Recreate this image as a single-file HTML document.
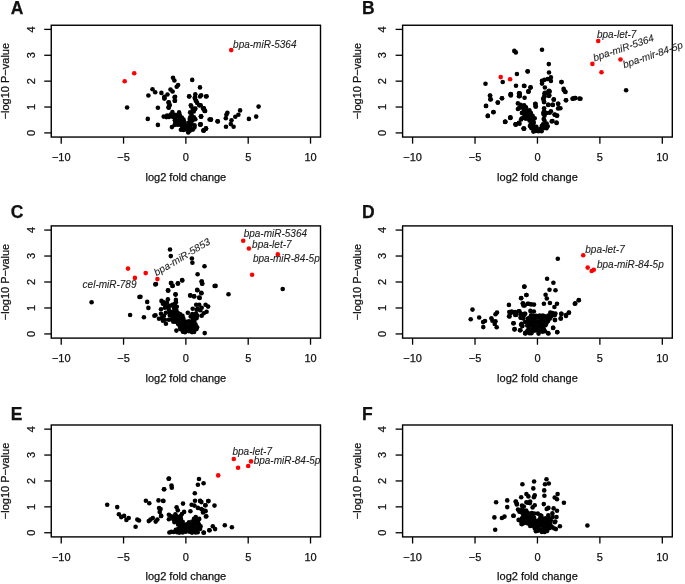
<!DOCTYPE html><html><head><meta charset="utf-8"><style>html,body{margin:0;padding:0;background:#fff;}svg{display:block;will-change:transform;}text{font-family:"Liberation Sans",sans-serif;fill:#111;stroke:#111;stroke-width:0.25px;}text.it{stroke-width:0.1px;fill:#222;stroke:#222;}</style></head><body>
<svg width="685" height="584" viewBox="0 0 685 584">
<rect width="685" height="584" fill="#fff"/>
<g><circle cx="191.3" cy="106.6" r="2.3" fill="#000"/><circle cx="192.9" cy="109.5" r="2.3" fill="#000"/><circle cx="195.0" cy="108.9" r="2.3" fill="#000"/><circle cx="172.4" cy="112.0" r="2.3" fill="#000"/><circle cx="179.1" cy="112.4" r="2.3" fill="#000"/><circle cx="190.1" cy="112.4" r="2.3" fill="#000"/><circle cx="193.8" cy="111.5" r="2.3" fill="#000"/><circle cx="170.7" cy="114.6" r="2.3" fill="#000"/><circle cx="174.7" cy="114.9" r="2.3" fill="#000"/><circle cx="177.6" cy="115.0" r="2.3" fill="#000"/><circle cx="179.8" cy="115.0" r="2.3" fill="#000"/><circle cx="191.6" cy="114.7" r="2.3" fill="#000"/><circle cx="166.4" cy="117.1" r="2.3" fill="#000"/><circle cx="169.0" cy="117.0" r="2.3" fill="#000"/><circle cx="172.6" cy="116.7" r="2.3" fill="#000"/><circle cx="175.1" cy="117.7" r="2.3" fill="#000"/><circle cx="178.7" cy="116.7" r="2.3" fill="#000"/><circle cx="181.8" cy="117.6" r="2.3" fill="#000"/><circle cx="190.2" cy="117.4" r="2.3" fill="#000"/><circle cx="193.9" cy="117.2" r="2.3" fill="#000"/><circle cx="174.8" cy="120.2" r="2.3" fill="#000"/><circle cx="176.9" cy="120.2" r="2.3" fill="#000"/><circle cx="179.9" cy="120.3" r="2.3" fill="#000"/><circle cx="183.5" cy="119.6" r="2.3" fill="#000"/><circle cx="189.7" cy="119.1" r="2.3" fill="#000"/><circle cx="192.6" cy="120.4" r="2.3" fill="#000"/><circle cx="195.3" cy="119.3" r="2.3" fill="#000"/><circle cx="175.4" cy="122.3" r="2.3" fill="#000"/><circle cx="178.4" cy="122.8" r="2.3" fill="#000"/><circle cx="182.2" cy="121.6" r="2.3" fill="#000"/><circle cx="184.3" cy="122.1" r="2.3" fill="#000"/><circle cx="188.4" cy="122.7" r="2.3" fill="#000"/><circle cx="190.5" cy="121.9" r="2.3" fill="#000"/><circle cx="174.6" cy="125.0" r="2.3" fill="#000"/><circle cx="177.7" cy="124.7" r="2.3" fill="#000"/><circle cx="180.0" cy="124.6" r="2.3" fill="#000"/><circle cx="183.7" cy="125.1" r="2.3" fill="#000"/><circle cx="186.8" cy="125.5" r="2.3" fill="#000"/><circle cx="188.7" cy="125.0" r="2.3" fill="#000"/><circle cx="191.6" cy="124.3" r="2.3" fill="#000"/><circle cx="194.6" cy="125.4" r="2.3" fill="#000"/><circle cx="182.1" cy="126.8" r="2.3" fill="#000"/><circle cx="184.9" cy="126.9" r="2.3" fill="#000"/><circle cx="187.2" cy="128.0" r="2.3" fill="#000"/><circle cx="190.0" cy="127.1" r="2.3" fill="#000"/><circle cx="194.4" cy="127.4" r="2.3" fill="#000"/><circle cx="180.9" cy="129.8" r="2.3" fill="#000"/><circle cx="183.3" cy="130.0" r="2.3" fill="#000"/><circle cx="185.9" cy="129.5" r="2.3" fill="#000"/><circle cx="189.8" cy="130.8" r="2.3" fill="#000"/><circle cx="192.8" cy="129.6" r="2.3" fill="#000"/><circle cx="188.2" cy="132.4" r="2.3" fill="#000"/><circle cx="124.7" cy="81.2" r="2.3" fill="#f00"/><circle cx="134.2" cy="73.2" r="2.3" fill="#f00"/><circle cx="231.2" cy="50.1" r="2.3" fill="#f00"/><circle cx="127.1" cy="107.5" r="2.3" fill="#000"/><circle cx="148.4" cy="95.5" r="2.3" fill="#000"/><circle cx="152.5" cy="89.3" r="2.3" fill="#000"/><circle cx="155.2" cy="92.3" r="2.3" fill="#000"/><circle cx="161.4" cy="92.9" r="2.3" fill="#000"/><circle cx="164.4" cy="96.7" r="2.3" fill="#000"/><circle cx="164.4" cy="98.6" r="2.3" fill="#000"/><circle cx="167.5" cy="94.5" r="2.3" fill="#000"/><circle cx="170.5" cy="89.5" r="2.3" fill="#000"/><circle cx="172.6" cy="91.5" r="2.3" fill="#000"/><circle cx="173.0" cy="77.8" r="2.3" fill="#000"/><circle cx="174.4" cy="80.5" r="2.3" fill="#000"/><circle cx="176.7" cy="86.7" r="2.3" fill="#000"/><circle cx="178.1" cy="85.1" r="2.3" fill="#000"/><circle cx="175.1" cy="96.7" r="2.3" fill="#000"/><circle cx="174.7" cy="100.8" r="2.3" fill="#000"/><circle cx="168.5" cy="102.5" r="2.3" fill="#000"/><circle cx="169.6" cy="105.2" r="2.3" fill="#000"/><circle cx="168.5" cy="107.3" r="2.3" fill="#000"/><circle cx="157.9" cy="107.8" r="2.3" fill="#000"/><circle cx="147.8" cy="118.9" r="2.3" fill="#000"/><circle cx="157.9" cy="124.9" r="2.3" fill="#000"/><circle cx="163.7" cy="116.6" r="2.3" fill="#000"/><circle cx="167.1" cy="115.5" r="2.3" fill="#000"/><circle cx="171.9" cy="127.1" r="2.3" fill="#000"/><circle cx="192.2" cy="79.9" r="2.3" fill="#000"/><circle cx="200.0" cy="87.4" r="2.3" fill="#000"/><circle cx="189.2" cy="96.3" r="2.3" fill="#000"/><circle cx="195.3" cy="94.2" r="2.3" fill="#000"/><circle cx="201.1" cy="95.2" r="2.3" fill="#000"/><circle cx="206.6" cy="96.3" r="2.3" fill="#000"/><circle cx="194.9" cy="98.4" r="2.3" fill="#000"/><circle cx="196.3" cy="101.1" r="2.3" fill="#000"/><circle cx="199.5" cy="105.2" r="2.3" fill="#000"/><circle cx="190.8" cy="105.2" r="2.3" fill="#000"/><circle cx="195.3" cy="108.6" r="2.3" fill="#000"/><circle cx="203.8" cy="108.6" r="2.3" fill="#000"/><circle cx="204.9" cy="111.0" r="2.3" fill="#000"/><circle cx="201.1" cy="116.4" r="2.3" fill="#000"/><circle cx="200.4" cy="124.4" r="2.3" fill="#000"/><circle cx="210.7" cy="119.6" r="2.3" fill="#000"/><circle cx="217.5" cy="121.2" r="2.3" fill="#000"/><circle cx="203.6" cy="130.5" r="2.3" fill="#000"/><circle cx="205.9" cy="128.5" r="2.3" fill="#000"/><circle cx="200.7" cy="105.2" r="2.3" fill="#000"/><circle cx="203.8" cy="108.2" r="2.3" fill="#000"/><circle cx="205.1" cy="111.0" r="2.3" fill="#000"/><circle cx="201.1" cy="116.6" r="2.3" fill="#000"/><circle cx="200.7" cy="124.4" r="2.3" fill="#000"/><circle cx="205.9" cy="128.5" r="2.3" fill="#000"/><circle cx="203.4" cy="130.5" r="2.3" fill="#000"/><circle cx="211.0" cy="119.6" r="2.3" fill="#000"/><circle cx="217.8" cy="121.4" r="2.3" fill="#000"/><circle cx="227.4" cy="112.7" r="2.3" fill="#000"/><circle cx="226.4" cy="114.8" r="2.3" fill="#000"/><circle cx="225.8" cy="118.2" r="2.3" fill="#000"/><circle cx="231.5" cy="120.3" r="2.3" fill="#000"/><circle cx="230.8" cy="124.1" r="2.3" fill="#000"/><circle cx="233.6" cy="126.8" r="2.3" fill="#000"/><circle cx="226.0" cy="126.8" r="2.3" fill="#000"/><circle cx="235.3" cy="116.8" r="2.3" fill="#000"/><circle cx="238.4" cy="114.8" r="2.3" fill="#000"/><circle cx="240.1" cy="110.4" r="2.3" fill="#000"/><circle cx="248.9" cy="118.9" r="2.3" fill="#000"/><circle cx="256.2" cy="116.6" r="2.3" fill="#000"/><circle cx="258.6" cy="106.6" r="2.3" fill="#000"/><circle cx="168.8" cy="102.3" r="2.3" fill="#000"/><circle cx="169.5" cy="104.9" r="2.3" fill="#000"/><circle cx="168.8" cy="107.8" r="2.3" fill="#000"/><circle cx="174.6" cy="97.2" r="2.3" fill="#000"/><circle cx="175.0" cy="100.8" r="2.3" fill="#000"/><circle cx="164.4" cy="97.9" r="2.3" fill="#000"/><circle cx="189.2" cy="96.5" r="2.3" fill="#000"/><circle cx="195.0" cy="97.2" r="2.3" fill="#000"/><circle cx="195.8" cy="100.8" r="2.3" fill="#000"/><circle cx="197.2" cy="103.0" r="2.3" fill="#000"/><circle cx="199.4" cy="105.2" r="2.3" fill="#000"/><circle cx="203.0" cy="108.5" r="2.3" fill="#000"/><circle cx="204.5" cy="110.7" r="2.3" fill="#000"/><circle cx="200.1" cy="96.5" r="2.3" fill="#000"/><circle cx="206.0" cy="96.5" r="2.3" fill="#000"/><circle cx="203.8" cy="130.4" r="2.3" fill="#000"/><circle cx="206.0" cy="128.6" r="2.3" fill="#000"/><circle cx="200.1" cy="124.6" r="2.3" fill="#000"/><circle cx="200.9" cy="116.5" r="2.3" fill="#000"/><circle cx="209.6" cy="119.5" r="2.3" fill="#000"/><rect x="51.25" y="25.25" width="269.25" height="111.80" fill="none" stroke="#000" stroke-width="1.4"/><line x1="61.22" y1="137.05" x2="61.22" y2="143.65" stroke="#000" stroke-width="1.3"/><text x="61.22" y="160.95" font-size="11" text-anchor="middle">−10</text><line x1="123.55" y1="137.05" x2="123.55" y2="143.65" stroke="#000" stroke-width="1.3"/><text x="123.55" y="160.95" font-size="11" text-anchor="middle">−5</text><line x1="185.88" y1="137.05" x2="185.88" y2="143.65" stroke="#000" stroke-width="1.3"/><text x="185.88" y="160.95" font-size="11" text-anchor="middle">0</text><line x1="248.20" y1="137.05" x2="248.20" y2="143.65" stroke="#000" stroke-width="1.3"/><text x="248.20" y="160.95" font-size="11" text-anchor="middle">5</text><line x1="310.53" y1="137.05" x2="310.53" y2="143.65" stroke="#000" stroke-width="1.3"/><text x="310.53" y="160.95" font-size="11" text-anchor="middle">10</text><line x1="44.25" y1="132.91" x2="51.25" y2="132.91" stroke="#000" stroke-width="1.3"/><text transform="translate(35.10,132.91) rotate(-90)" font-size="11" text-anchor="middle">0</text><line x1="44.25" y1="107.03" x2="51.25" y2="107.03" stroke="#000" stroke-width="1.3"/><text transform="translate(35.10,107.03) rotate(-90)" font-size="11" text-anchor="middle">1</text><line x1="44.25" y1="81.15" x2="51.25" y2="81.15" stroke="#000" stroke-width="1.3"/><text transform="translate(35.10,81.15) rotate(-90)" font-size="11" text-anchor="middle">2</text><line x1="44.25" y1="55.27" x2="51.25" y2="55.27" stroke="#000" stroke-width="1.3"/><text transform="translate(35.10,55.27) rotate(-90)" font-size="11" text-anchor="middle">3</text><line x1="44.25" y1="29.39" x2="51.25" y2="29.39" stroke="#000" stroke-width="1.3"/><text transform="translate(35.10,29.39) rotate(-90)" font-size="11" text-anchor="middle">4</text><text x="185.88" y="180.55" font-size="11" text-anchor="middle">log2 fold change</text><text transform="translate(9.30,81.15) rotate(-90)" font-size="11" text-anchor="middle">−log10 P−value</text><text x="10.75" y="13.80" font-size="17.5" font-weight="bold">A</text><text x="233.1" y="47.7" class="it" font-size="10" font-style="italic">bpa-miR-5364</text></g>
<g><circle cx="520.5" cy="104.8" r="2.3" fill="#000"/><circle cx="524.1" cy="105.2" r="2.3" fill="#000"/><circle cx="519.1" cy="108.1" r="2.3" fill="#000"/><circle cx="522.6" cy="107.8" r="2.3" fill="#000"/><circle cx="525.9" cy="107.3" r="2.3" fill="#000"/><circle cx="524.1" cy="110.6" r="2.3" fill="#000"/><circle cx="526.6" cy="110.4" r="2.3" fill="#000"/><circle cx="529.4" cy="110.2" r="2.3" fill="#000"/><circle cx="544.2" cy="111.3" r="2.3" fill="#000"/><circle cx="525.8" cy="113.6" r="2.3" fill="#000"/><circle cx="528.9" cy="113.9" r="2.3" fill="#000"/><circle cx="530.9" cy="113.0" r="2.3" fill="#000"/><circle cx="543.4" cy="113.9" r="2.3" fill="#000"/><circle cx="546.7" cy="113.0" r="2.3" fill="#000"/><circle cx="549.8" cy="112.8" r="2.3" fill="#000"/><circle cx="524.3" cy="116.1" r="2.3" fill="#000"/><circle cx="527.4" cy="116.2" r="2.3" fill="#000"/><circle cx="530.2" cy="116.0" r="2.3" fill="#000"/><circle cx="532.6" cy="115.7" r="2.3" fill="#000"/><circle cx="544.5" cy="115.7" r="2.3" fill="#000"/><circle cx="522.1" cy="118.2" r="2.3" fill="#000"/><circle cx="525.9" cy="118.8" r="2.3" fill="#000"/><circle cx="528.6" cy="118.1" r="2.3" fill="#000"/><circle cx="531.7" cy="118.6" r="2.3" fill="#000"/><circle cx="534.7" cy="118.2" r="2.3" fill="#000"/><circle cx="543.7" cy="119.1" r="2.3" fill="#000"/><circle cx="529.5" cy="120.4" r="2.3" fill="#000"/><circle cx="533.4" cy="121.5" r="2.3" fill="#000"/><circle cx="544.5" cy="120.7" r="2.3" fill="#000"/><circle cx="530.8" cy="124.0" r="2.3" fill="#000"/><circle cx="533.7" cy="123.0" r="2.3" fill="#000"/><circle cx="543.0" cy="124.2" r="2.3" fill="#000"/><circle cx="546.6" cy="123.6" r="2.3" fill="#000"/><circle cx="529.9" cy="126.1" r="2.3" fill="#000"/><circle cx="533.4" cy="126.3" r="2.3" fill="#000"/><circle cx="536.3" cy="126.8" r="2.3" fill="#000"/><circle cx="541.8" cy="126.0" r="2.3" fill="#000"/><circle cx="545.3" cy="126.3" r="2.3" fill="#000"/><circle cx="531.5" cy="128.3" r="2.3" fill="#000"/><circle cx="534.1" cy="128.2" r="2.3" fill="#000"/><circle cx="537.1" cy="129.4" r="2.3" fill="#000"/><circle cx="540.1" cy="129.1" r="2.3" fill="#000"/><circle cx="543.4" cy="128.3" r="2.3" fill="#000"/><circle cx="546.5" cy="128.2" r="2.3" fill="#000"/><circle cx="533.4" cy="131.6" r="2.3" fill="#000"/><circle cx="535.7" cy="131.0" r="2.3" fill="#000"/><circle cx="538.4" cy="131.2" r="2.3" fill="#000"/><circle cx="541.6" cy="131.2" r="2.3" fill="#000"/><circle cx="544.5" cy="93.2" r="2.3" fill="#000"/><circle cx="547.7" cy="92.4" r="2.3" fill="#000"/><circle cx="549.7" cy="91.6" r="2.3" fill="#000"/><circle cx="548.9" cy="96.0" r="2.3" fill="#000"/><circle cx="544.5" cy="96.4" r="2.3" fill="#000"/><circle cx="543.2" cy="98.5" r="2.3" fill="#000"/><circle cx="544.0" cy="102.1" r="2.3" fill="#000"/><circle cx="510.6" cy="94.4" r="2.3" fill="#000"/><circle cx="519.5" cy="93.6" r="2.3" fill="#000"/><circle cx="519.5" cy="96.0" r="2.3" fill="#000"/><circle cx="528.3" cy="91.6" r="2.3" fill="#000"/><circle cx="535.2" cy="104.1" r="2.3" fill="#000"/><circle cx="535.6" cy="106.5" r="2.3" fill="#000"/><circle cx="553.7" cy="99.7" r="2.3" fill="#000"/><circle cx="548.1" cy="104.9" r="2.3" fill="#000"/><circle cx="552.9" cy="104.9" r="2.3" fill="#000"/><circle cx="558.1" cy="103.7" r="2.3" fill="#000"/><circle cx="558.1" cy="108.5" r="2.3" fill="#000"/><circle cx="510.2" cy="117.8" r="2.3" fill="#000"/><circle cx="505.4" cy="121.8" r="2.3" fill="#000"/><circle cx="515.5" cy="124.2" r="2.3" fill="#000"/><circle cx="519.5" cy="123.8" r="2.3" fill="#000"/><circle cx="523.5" cy="128.6" r="2.3" fill="#000"/><circle cx="551.7" cy="121.4" r="2.3" fill="#000"/><circle cx="556.5" cy="122.6" r="2.3" fill="#000"/><circle cx="554.5" cy="114.6" r="2.3" fill="#000"/><circle cx="556.9" cy="115.8" r="2.3" fill="#000"/><circle cx="521.9" cy="112.9" r="2.3" fill="#000"/><circle cx="521.1" cy="119.4" r="2.3" fill="#000"/><circle cx="500.7" cy="77.1" r="2.3" fill="#f00"/><circle cx="510.1" cy="79.2" r="2.3" fill="#f00"/><circle cx="592.4" cy="63.9" r="2.3" fill="#f00"/><circle cx="601.5" cy="72.2" r="2.3" fill="#f00"/><circle cx="620.5" cy="59.5" r="2.3" fill="#f00"/><circle cx="598.2" cy="41.0" r="2.3" fill="#f00"/><circle cx="514.3" cy="50.9" r="2.3" fill="#000"/><circle cx="515.8" cy="52.4" r="2.3" fill="#000"/><circle cx="527.7" cy="71.5" r="2.3" fill="#000"/><circle cx="516.9" cy="74.0" r="2.3" fill="#000"/><circle cx="502.7" cy="82.0" r="2.3" fill="#000"/><circle cx="485.5" cy="83.8" r="2.3" fill="#000"/><circle cx="516.0" cy="85.8" r="2.3" fill="#000"/><circle cx="524.0" cy="85.8" r="2.3" fill="#000"/><circle cx="530.5" cy="87.4" r="2.3" fill="#000"/><circle cx="528.5" cy="91.2" r="2.3" fill="#000"/><circle cx="490.1" cy="95.5" r="2.3" fill="#000"/><circle cx="490.7" cy="99.2" r="2.3" fill="#000"/><circle cx="510.8" cy="94.0" r="2.3" fill="#000"/><circle cx="510.8" cy="95.5" r="2.3" fill="#000"/><circle cx="519.7" cy="93.5" r="2.3" fill="#000"/><circle cx="519.7" cy="95.9" r="2.3" fill="#000"/><circle cx="502.0" cy="98.2" r="2.3" fill="#000"/><circle cx="497.8" cy="102.5" r="2.3" fill="#000"/><circle cx="486.1" cy="105.9" r="2.3" fill="#000"/><circle cx="493.5" cy="112.0" r="2.3" fill="#000"/><circle cx="487.8" cy="115.9" r="2.3" fill="#000"/><circle cx="510.4" cy="117.4" r="2.3" fill="#000"/><circle cx="505.1" cy="121.7" r="2.3" fill="#000"/><circle cx="515.8" cy="124.4" r="2.3" fill="#000"/><circle cx="518.9" cy="122.8" r="2.3" fill="#000"/><circle cx="524.0" cy="128.5" r="2.3" fill="#000"/><circle cx="542.0" cy="49.8" r="2.3" fill="#000"/><circle cx="548.8" cy="64.1" r="2.3" fill="#000"/><circle cx="527.6" cy="71.2" r="2.3" fill="#000"/><circle cx="549.0" cy="72.5" r="2.3" fill="#000"/><circle cx="550.9" cy="77.4" r="2.3" fill="#000"/><circle cx="547.7" cy="79.0" r="2.3" fill="#000"/><circle cx="544.4" cy="79.9" r="2.3" fill="#000"/><circle cx="542.0" cy="80.7" r="2.3" fill="#000"/><circle cx="542.0" cy="83.6" r="2.3" fill="#000"/><circle cx="550.9" cy="81.0" r="2.3" fill="#000"/><circle cx="561.5" cy="82.0" r="2.3" fill="#000"/><circle cx="524.4" cy="86.0" r="2.3" fill="#000"/><circle cx="530.6" cy="87.5" r="2.3" fill="#000"/><circle cx="528.5" cy="91.7" r="2.3" fill="#000"/><circle cx="544.9" cy="87.5" r="2.3" fill="#000"/><circle cx="549.0" cy="90.8" r="2.3" fill="#000"/><circle cx="545.2" cy="92.9" r="2.3" fill="#000"/><circle cx="549.3" cy="95.3" r="2.3" fill="#000"/><circle cx="544.4" cy="96.1" r="2.3" fill="#000"/><circle cx="543.6" cy="99.4" r="2.3" fill="#000"/><circle cx="544.1" cy="101.8" r="2.3" fill="#000"/><circle cx="563.6" cy="88.8" r="2.3" fill="#000"/><circle cx="565.2" cy="91.7" r="2.3" fill="#000"/><circle cx="553.8" cy="99.4" r="2.3" fill="#000"/><circle cx="566.0" cy="100.2" r="2.3" fill="#000"/><circle cx="572.9" cy="98.6" r="2.3" fill="#000"/><circle cx="575.3" cy="98.1" r="2.3" fill="#000"/><circle cx="579.4" cy="98.6" r="2.3" fill="#000"/><circle cx="548.5" cy="104.7" r="2.3" fill="#000"/><circle cx="552.5" cy="104.7" r="2.3" fill="#000"/><circle cx="558.2" cy="103.8" r="2.3" fill="#000"/><circle cx="559.0" cy="108.0" r="2.3" fill="#000"/><circle cx="535.5" cy="103.8" r="2.3" fill="#000"/><circle cx="535.8" cy="106.4" r="2.3" fill="#000"/><circle cx="544.1" cy="108.3" r="2.3" fill="#000"/><circle cx="543.6" cy="112.4" r="2.3" fill="#000"/><circle cx="550.9" cy="111.3" r="2.3" fill="#000"/><circle cx="555.0" cy="114.8" r="2.3" fill="#000"/><circle cx="557.1" cy="115.6" r="2.3" fill="#000"/><circle cx="552.5" cy="121.0" r="2.3" fill="#000"/><circle cx="556.6" cy="123.0" r="2.3" fill="#000"/><circle cx="524.1" cy="128.7" r="2.3" fill="#000"/><circle cx="547.7" cy="126.2" r="2.3" fill="#000"/><circle cx="524.6" cy="97.8" r="2.3" fill="#000"/><circle cx="561.5" cy="82.1" r="2.3" fill="#000"/><circle cx="563.9" cy="90.2" r="2.3" fill="#000"/><circle cx="565.4" cy="91.9" r="2.3" fill="#000"/><circle cx="566.0" cy="100.2" r="2.3" fill="#000"/><circle cx="572.6" cy="98.8" r="2.3" fill="#000"/><circle cx="574.8" cy="98.1" r="2.3" fill="#000"/><circle cx="580.5" cy="98.8" r="2.3" fill="#000"/><circle cx="626.1" cy="90.2" r="2.3" fill="#000"/><circle cx="560.4" cy="108.2" r="2.3" fill="#000"/><circle cx="490.0" cy="95.8" r="2.3" fill="#000"/><circle cx="490.4" cy="99.5" r="2.3" fill="#000"/><circle cx="502.0" cy="98.2" r="2.3" fill="#000"/><circle cx="510.9" cy="94.5" r="2.3" fill="#000"/><circle cx="497.8" cy="102.6" r="2.3" fill="#000"/><circle cx="485.9" cy="106.0" r="2.3" fill="#000"/><circle cx="493.4" cy="112.3" r="2.3" fill="#000"/><circle cx="487.8" cy="115.9" r="2.3" fill="#000"/><circle cx="510.4" cy="117.9" r="2.3" fill="#000"/><circle cx="505.1" cy="121.9" r="2.3" fill="#000"/><circle cx="515.7" cy="124.6" r="2.3" fill="#000"/><circle cx="519.0" cy="93.4" r="2.3" fill="#000"/><circle cx="519.0" cy="96.2" r="2.3" fill="#000"/><circle cx="517.9" cy="103.4" r="2.3" fill="#000"/><circle cx="517.9" cy="109.0" r="2.3" fill="#000"/><rect x="402.60" y="25.25" width="269.70" height="111.80" fill="none" stroke="#000" stroke-width="1.4"/><line x1="412.59" y1="137.05" x2="412.59" y2="143.65" stroke="#000" stroke-width="1.3"/><text x="412.59" y="160.95" font-size="11" text-anchor="middle">−10</text><line x1="475.02" y1="137.05" x2="475.02" y2="143.65" stroke="#000" stroke-width="1.3"/><text x="475.02" y="160.95" font-size="11" text-anchor="middle">−5</text><line x1="537.45" y1="137.05" x2="537.45" y2="143.65" stroke="#000" stroke-width="1.3"/><text x="537.45" y="160.95" font-size="11" text-anchor="middle">0</text><line x1="599.88" y1="137.05" x2="599.88" y2="143.65" stroke="#000" stroke-width="1.3"/><text x="599.88" y="160.95" font-size="11" text-anchor="middle">5</text><line x1="662.31" y1="137.05" x2="662.31" y2="143.65" stroke="#000" stroke-width="1.3"/><text x="662.31" y="160.95" font-size="11" text-anchor="middle">10</text><line x1="395.60" y1="132.91" x2="402.60" y2="132.91" stroke="#000" stroke-width="1.3"/><text transform="translate(386.45,132.91) rotate(-90)" font-size="11" text-anchor="middle">0</text><line x1="395.60" y1="107.03" x2="402.60" y2="107.03" stroke="#000" stroke-width="1.3"/><text transform="translate(386.45,107.03) rotate(-90)" font-size="11" text-anchor="middle">1</text><line x1="395.60" y1="81.15" x2="402.60" y2="81.15" stroke="#000" stroke-width="1.3"/><text transform="translate(386.45,81.15) rotate(-90)" font-size="11" text-anchor="middle">2</text><line x1="395.60" y1="55.27" x2="402.60" y2="55.27" stroke="#000" stroke-width="1.3"/><text transform="translate(386.45,55.27) rotate(-90)" font-size="11" text-anchor="middle">3</text><line x1="395.60" y1="29.39" x2="402.60" y2="29.39" stroke="#000" stroke-width="1.3"/><text transform="translate(386.45,29.39) rotate(-90)" font-size="11" text-anchor="middle">4</text><text x="537.45" y="180.55" font-size="11" text-anchor="middle">log2 fold change</text><text transform="translate(360.65,81.15) rotate(-90)" font-size="11" text-anchor="middle">−log10 P−value</text><text x="362.10" y="13.80" font-size="17.5" font-weight="bold">B</text><text x="596.9" y="37.6" class="it" font-size="10" font-style="italic">bpa-let-7</text><text transform="translate(594.5,61.4) rotate(-19.0)" class="it" font-size="10" font-style="italic">bpa-miR-5364</text><text transform="translate(624.2,68.2) rotate(-19.0)" class="it" font-size="10" font-style="italic">bpa-mir-84-5p</text></g>
<g><circle cx="175.0" cy="308.2" r="2.3" fill="#000"/><circle cx="173.4" cy="311.5" r="2.3" fill="#000"/><circle cx="176.5" cy="310.9" r="2.3" fill="#000"/><circle cx="171.9" cy="313.4" r="2.3" fill="#000"/><circle cx="175.4" cy="314.2" r="2.3" fill="#000"/><circle cx="178.3" cy="313.3" r="2.3" fill="#000"/><circle cx="180.3" cy="314.2" r="2.3" fill="#000"/><circle cx="192.3" cy="314.1" r="2.3" fill="#000"/><circle cx="196.0" cy="313.6" r="2.3" fill="#000"/><circle cx="169.8" cy="315.5" r="2.3" fill="#000"/><circle cx="173.2" cy="316.4" r="2.3" fill="#000"/><circle cx="176.2" cy="316.0" r="2.3" fill="#000"/><circle cx="179.6" cy="316.5" r="2.3" fill="#000"/><circle cx="182.5" cy="315.9" r="2.3" fill="#000"/><circle cx="190.7" cy="316.4" r="2.3" fill="#000"/><circle cx="194.2" cy="316.1" r="2.3" fill="#000"/><circle cx="197.4" cy="315.7" r="2.3" fill="#000"/><circle cx="171.7" cy="319.4" r="2.3" fill="#000"/><circle cx="175.2" cy="318.6" r="2.3" fill="#000"/><circle cx="177.7" cy="319.0" r="2.3" fill="#000"/><circle cx="181.2" cy="318.6" r="2.3" fill="#000"/><circle cx="183.3" cy="318.4" r="2.3" fill="#000"/><circle cx="193.0" cy="318.6" r="2.3" fill="#000"/><circle cx="196.5" cy="318.3" r="2.3" fill="#000"/><circle cx="173.3" cy="321.8" r="2.3" fill="#000"/><circle cx="175.7" cy="321.8" r="2.3" fill="#000"/><circle cx="178.9" cy="321.6" r="2.3" fill="#000"/><circle cx="182.9" cy="321.6" r="2.3" fill="#000"/><circle cx="185.5" cy="321.5" r="2.3" fill="#000"/><circle cx="188.8" cy="321.2" r="2.3" fill="#000"/><circle cx="191.0" cy="321.5" r="2.3" fill="#000"/><circle cx="194.4" cy="320.9" r="2.3" fill="#000"/><circle cx="178.1" cy="323.9" r="2.3" fill="#000"/><circle cx="180.6" cy="323.5" r="2.3" fill="#000"/><circle cx="183.6" cy="324.7" r="2.3" fill="#000"/><circle cx="186.3" cy="324.6" r="2.3" fill="#000"/><circle cx="190.2" cy="324.4" r="2.3" fill="#000"/><circle cx="192.4" cy="324.2" r="2.3" fill="#000"/><circle cx="195.5" cy="324.3" r="2.3" fill="#000"/><circle cx="179.9" cy="326.4" r="2.3" fill="#000"/><circle cx="182.5" cy="326.6" r="2.3" fill="#000"/><circle cx="185.4" cy="326.6" r="2.3" fill="#000"/><circle cx="188.4" cy="326.7" r="2.3" fill="#000"/><circle cx="191.3" cy="326.5" r="2.3" fill="#000"/><circle cx="195.0" cy="327.3" r="2.3" fill="#000"/><circle cx="197.1" cy="327.2" r="2.3" fill="#000"/><circle cx="180.3" cy="329.1" r="2.3" fill="#000"/><circle cx="183.9" cy="329.6" r="2.3" fill="#000"/><circle cx="186.8" cy="329.6" r="2.3" fill="#000"/><circle cx="189.8" cy="329.4" r="2.3" fill="#000"/><circle cx="193.3" cy="328.7" r="2.3" fill="#000"/><circle cx="196.5" cy="329.1" r="2.3" fill="#000"/><circle cx="182.9" cy="331.7" r="2.3" fill="#000"/><circle cx="185.0" cy="332.3" r="2.3" fill="#000"/><circle cx="189.0" cy="331.3" r="2.3" fill="#000"/><circle cx="192.0" cy="332.1" r="2.3" fill="#000"/><circle cx="194.1" cy="331.9" r="2.3" fill="#000"/><circle cx="156.0" cy="284.0" r="2.3" fill="#000"/><circle cx="170.9" cy="283.0" r="2.3" fill="#000"/><circle cx="172.4" cy="286.0" r="2.3" fill="#000"/><circle cx="177.8" cy="283.5" r="2.3" fill="#000"/><circle cx="182.3" cy="280.5" r="2.3" fill="#000"/><circle cx="201.7" cy="281.5" r="2.3" fill="#000"/><circle cx="202.2" cy="283.5" r="2.3" fill="#000"/><circle cx="214.6" cy="286.0" r="2.3" fill="#000"/><circle cx="167.9" cy="290.4" r="2.3" fill="#000"/><circle cx="175.6" cy="294.6" r="2.3" fill="#000"/><circle cx="197.2" cy="289.9" r="2.3" fill="#000"/><circle cx="201.2" cy="292.9" r="2.3" fill="#000"/><circle cx="190.3" cy="295.4" r="2.3" fill="#000"/><circle cx="194.2" cy="296.4" r="2.3" fill="#000"/><circle cx="199.7" cy="297.9" r="2.3" fill="#000"/><circle cx="167.9" cy="299.4" r="2.3" fill="#000"/><circle cx="161.5" cy="300.9" r="2.3" fill="#000"/><circle cx="163.9" cy="302.3" r="2.3" fill="#000"/><circle cx="175.9" cy="299.9" r="2.3" fill="#000"/><circle cx="175.9" cy="302.3" r="2.3" fill="#000"/><circle cx="165.4" cy="304.8" r="2.3" fill="#000"/><circle cx="168.4" cy="306.8" r="2.3" fill="#000"/><circle cx="196.2" cy="304.8" r="2.3" fill="#000"/><circle cx="199.2" cy="304.8" r="2.3" fill="#000"/><circle cx="205.6" cy="304.8" r="2.3" fill="#000"/><circle cx="208.1" cy="306.6" r="2.3" fill="#000"/><circle cx="206.6" cy="311.8" r="2.3" fill="#000"/><circle cx="203.7" cy="313.3" r="2.3" fill="#000"/><circle cx="200.2" cy="310.3" r="2.3" fill="#000"/><circle cx="161.0" cy="309.3" r="2.3" fill="#000"/><circle cx="161.0" cy="313.8" r="2.3" fill="#000"/><circle cx="155.5" cy="315.3" r="2.3" fill="#000"/><circle cx="159.0" cy="318.7" r="2.3" fill="#000"/><circle cx="162.9" cy="320.7" r="2.3" fill="#000"/><circle cx="165.9" cy="323.7" r="2.3" fill="#000"/><circle cx="176.4" cy="330.6" r="2.3" fill="#000"/><circle cx="204.7" cy="333.1" r="2.3" fill="#000"/><circle cx="187.8" cy="312.8" r="2.3" fill="#000"/><circle cx="201.7" cy="315.7" r="2.3" fill="#000"/><circle cx="128.0" cy="268.6" r="2.3" fill="#f00"/><circle cx="145.7" cy="273.1" r="2.3" fill="#f00"/><circle cx="134.9" cy="277.9" r="2.3" fill="#f00"/><circle cx="157.4" cy="279.1" r="2.3" fill="#f00"/><circle cx="243.2" cy="240.8" r="2.3" fill="#f00"/><circle cx="248.9" cy="248.5" r="2.3" fill="#f00"/><circle cx="277.8" cy="254.4" r="2.3" fill="#f00"/><circle cx="252.1" cy="274.7" r="2.3" fill="#f00"/><circle cx="155.3" cy="284.4" r="2.3" fill="#000"/><circle cx="91.6" cy="302.3" r="2.3" fill="#000"/><circle cx="139.4" cy="297.0" r="2.3" fill="#000"/><circle cx="147.2" cy="301.9" r="2.3" fill="#000"/><circle cx="148.4" cy="307.9" r="2.3" fill="#000"/><circle cx="130.1" cy="315.0" r="2.3" fill="#000"/><circle cx="143.9" cy="317.2" r="2.3" fill="#000"/><circle cx="154.4" cy="315.7" r="2.3" fill="#000"/><circle cx="170.0" cy="249.5" r="2.3" fill="#000"/><circle cx="170.8" cy="256.1" r="2.3" fill="#000"/><circle cx="191.9" cy="258.5" r="2.3" fill="#000"/><circle cx="192.4" cy="262.8" r="2.3" fill="#000"/><circle cx="204.5" cy="266.2" r="2.3" fill="#000"/><circle cx="197.6" cy="274.2" r="2.3" fill="#000"/><circle cx="182.1" cy="280.1" r="2.3" fill="#000"/><circle cx="178.0" cy="283.4" r="2.3" fill="#000"/><circle cx="171.3" cy="283.0" r="2.3" fill="#000"/><circle cx="172.7" cy="285.7" r="2.3" fill="#000"/><circle cx="168.3" cy="290.6" r="2.3" fill="#000"/><circle cx="175.5" cy="294.3" r="2.3" fill="#000"/><circle cx="201.7" cy="281.6" r="2.3" fill="#000"/><circle cx="202.2" cy="283.7" r="2.3" fill="#000"/><circle cx="197.4" cy="290.2" r="2.3" fill="#000"/><circle cx="201.5" cy="293.2" r="2.3" fill="#000"/><circle cx="190.2" cy="295.5" r="2.3" fill="#000"/><circle cx="194.0" cy="296.3" r="2.3" fill="#000"/><circle cx="199.1" cy="297.6" r="2.3" fill="#000"/><circle cx="140.5" cy="296.7" r="2.3" fill="#000"/><circle cx="215.6" cy="285.9" r="2.3" fill="#000"/><circle cx="228.5" cy="294.3" r="2.3" fill="#000"/><circle cx="282.7" cy="289.0" r="2.3" fill="#000"/><circle cx="162.9" cy="303.8" r="2.3" fill="#000"/><circle cx="166.9" cy="302.8" r="2.3" fill="#000"/><circle cx="169.9" cy="305.8" r="2.3" fill="#000"/><circle cx="172.4" cy="304.8" r="2.3" fill="#000"/><circle cx="173.9" cy="307.8" r="2.3" fill="#000"/><circle cx="164.9" cy="307.8" r="2.3" fill="#000"/><circle cx="168.9" cy="309.8" r="2.3" fill="#000"/><circle cx="165.9" cy="312.8" r="2.3" fill="#000"/><circle cx="163.9" cy="315.7" r="2.3" fill="#000"/><circle cx="169.9" cy="312.8" r="2.3" fill="#000"/><circle cx="172.9" cy="311.8" r="2.3" fill="#000"/><circle cx="201.7" cy="307.8" r="2.3" fill="#000"/><circle cx="197.7" cy="308.8" r="2.3" fill="#000"/><circle cx="192.7" cy="308.8" r="2.3" fill="#000"/><circle cx="196.7" cy="309.8" r="2.3" fill="#000"/><circle cx="174.9" cy="303.8" r="2.3" fill="#000"/><circle cx="176.8" cy="306.8" r="2.3" fill="#000"/><circle cx="162.0" cy="317.7" r="2.3" fill="#000"/><circle cx="164.9" cy="319.7" r="2.3" fill="#000"/><circle cx="168.9" cy="319.7" r="2.3" fill="#000"/><rect x="51.25" y="225.90" width="269.25" height="112.20" fill="none" stroke="#000" stroke-width="1.4"/><line x1="61.22" y1="338.10" x2="61.22" y2="344.70" stroke="#000" stroke-width="1.3"/><text x="61.22" y="362.00" font-size="11" text-anchor="middle">−10</text><line x1="123.55" y1="338.10" x2="123.55" y2="344.70" stroke="#000" stroke-width="1.3"/><text x="123.55" y="362.00" font-size="11" text-anchor="middle">−5</text><line x1="185.88" y1="338.10" x2="185.88" y2="344.70" stroke="#000" stroke-width="1.3"/><text x="185.88" y="362.00" font-size="11" text-anchor="middle">0</text><line x1="248.20" y1="338.10" x2="248.20" y2="344.70" stroke="#000" stroke-width="1.3"/><text x="248.20" y="362.00" font-size="11" text-anchor="middle">5</text><line x1="310.53" y1="338.10" x2="310.53" y2="344.70" stroke="#000" stroke-width="1.3"/><text x="310.53" y="362.00" font-size="11" text-anchor="middle">10</text><line x1="44.25" y1="333.94" x2="51.25" y2="333.94" stroke="#000" stroke-width="1.3"/><text transform="translate(35.10,333.94) rotate(-90)" font-size="11" text-anchor="middle">0</text><line x1="44.25" y1="307.97" x2="51.25" y2="307.97" stroke="#000" stroke-width="1.3"/><text transform="translate(35.10,307.97) rotate(-90)" font-size="11" text-anchor="middle">1</text><line x1="44.25" y1="282.00" x2="51.25" y2="282.00" stroke="#000" stroke-width="1.3"/><text transform="translate(35.10,282.00) rotate(-90)" font-size="11" text-anchor="middle">2</text><line x1="44.25" y1="256.03" x2="51.25" y2="256.03" stroke="#000" stroke-width="1.3"/><text transform="translate(35.10,256.03) rotate(-90)" font-size="11" text-anchor="middle">3</text><line x1="44.25" y1="230.06" x2="51.25" y2="230.06" stroke="#000" stroke-width="1.3"/><text transform="translate(35.10,230.06) rotate(-90)" font-size="11" text-anchor="middle">4</text><text x="185.88" y="381.60" font-size="11" text-anchor="middle">log2 fold change</text><text transform="translate(9.30,282.00) rotate(-90)" font-size="11" text-anchor="middle">−log10 P−value</text><text x="10.75" y="217.80" font-size="17.5" font-weight="bold">C</text><text x="82.6" y="287.8" class="it" font-size="10" font-style="italic">cel-miR-789</text><text transform="translate(156.6,276.2) rotate(-31.0)" class="it" font-size="10" font-style="italic">bpa-miR-5853</text><text x="243.7" y="236.9" class="it" font-size="10" font-style="italic">bpa-miR-5364</text><text x="252.1" y="247.7" class="it" font-size="10" font-style="italic">bpa-let-7</text><text x="253.0" y="261.7" class="it" font-size="10" font-style="italic">bpa-miR-84-5p</text></g>
<g><circle cx="550.3" cy="312.5" r="2.3" fill="#000"/><circle cx="552.4" cy="313.0" r="2.3" fill="#000"/><circle cx="555.4" cy="313.6" r="2.3" fill="#000"/><circle cx="531.1" cy="315.3" r="2.3" fill="#000"/><circle cx="533.3" cy="315.7" r="2.3" fill="#000"/><circle cx="536.2" cy="315.7" r="2.3" fill="#000"/><circle cx="539.6" cy="315.5" r="2.3" fill="#000"/><circle cx="542.8" cy="315.6" r="2.3" fill="#000"/><circle cx="544.9" cy="316.3" r="2.3" fill="#000"/><circle cx="548.3" cy="315.5" r="2.3" fill="#000"/><circle cx="551.4" cy="316.2" r="2.3" fill="#000"/><circle cx="529.6" cy="317.7" r="2.3" fill="#000"/><circle cx="532.1" cy="317.9" r="2.3" fill="#000"/><circle cx="534.8" cy="318.0" r="2.3" fill="#000"/><circle cx="537.6" cy="317.5" r="2.3" fill="#000"/><circle cx="541.1" cy="318.6" r="2.3" fill="#000"/><circle cx="544.2" cy="317.7" r="2.3" fill="#000"/><circle cx="547.3" cy="317.5" r="2.3" fill="#000"/><circle cx="549.9" cy="318.6" r="2.3" fill="#000"/><circle cx="528.2" cy="321.1" r="2.3" fill="#000"/><circle cx="530.5" cy="321.1" r="2.3" fill="#000"/><circle cx="533.7" cy="320.6" r="2.3" fill="#000"/><circle cx="536.9" cy="321.2" r="2.3" fill="#000"/><circle cx="539.7" cy="321.4" r="2.3" fill="#000"/><circle cx="541.9" cy="320.8" r="2.3" fill="#000"/><circle cx="545.7" cy="320.5" r="2.3" fill="#000"/><circle cx="548.1" cy="321.0" r="2.3" fill="#000"/><circle cx="528.6" cy="323.0" r="2.3" fill="#000"/><circle cx="532.5" cy="322.9" r="2.3" fill="#000"/><circle cx="534.7" cy="322.8" r="2.3" fill="#000"/><circle cx="538.0" cy="322.9" r="2.3" fill="#000"/><circle cx="540.8" cy="323.7" r="2.3" fill="#000"/><circle cx="544.6" cy="323.8" r="2.3" fill="#000"/><circle cx="546.4" cy="323.2" r="2.3" fill="#000"/><circle cx="527.2" cy="325.6" r="2.3" fill="#000"/><circle cx="530.2" cy="325.3" r="2.3" fill="#000"/><circle cx="533.8" cy="325.5" r="2.3" fill="#000"/><circle cx="537.1" cy="326.2" r="2.3" fill="#000"/><circle cx="538.9" cy="326.0" r="2.3" fill="#000"/><circle cx="542.7" cy="325.3" r="2.3" fill="#000"/><circle cx="545.5" cy="325.3" r="2.3" fill="#000"/><circle cx="528.8" cy="329.1" r="2.3" fill="#000"/><circle cx="532.5" cy="327.9" r="2.3" fill="#000"/><circle cx="534.9" cy="328.7" r="2.3" fill="#000"/><circle cx="537.6" cy="329.0" r="2.3" fill="#000"/><circle cx="541.6" cy="328.6" r="2.3" fill="#000"/><circle cx="543.8" cy="329.0" r="2.3" fill="#000"/><circle cx="527.4" cy="331.7" r="2.3" fill="#000"/><circle cx="530.9" cy="331.0" r="2.3" fill="#000"/><circle cx="533.7" cy="330.7" r="2.3" fill="#000"/><circle cx="536.1" cy="330.5" r="2.3" fill="#000"/><circle cx="539.4" cy="330.8" r="2.3" fill="#000"/><circle cx="542.6" cy="331.8" r="2.3" fill="#000"/><circle cx="545.0" cy="331.2" r="2.3" fill="#000"/><circle cx="529.5" cy="333.2" r="2.3" fill="#000"/><circle cx="531.4" cy="333.3" r="2.3" fill="#000"/><circle cx="538.6" cy="333.6" r="2.3" fill="#000"/><circle cx="547.1" cy="278.7" r="2.3" fill="#000"/><circle cx="553.4" cy="282.8" r="2.3" fill="#000"/><circle cx="524.3" cy="286.7" r="2.3" fill="#000"/><circle cx="549.5" cy="289.8" r="2.3" fill="#000"/><circle cx="555.5" cy="290.2" r="2.3" fill="#000"/><circle cx="526.4" cy="295.0" r="2.3" fill="#000"/><circle cx="545.6" cy="294.7" r="2.3" fill="#000"/><circle cx="546.8" cy="298.5" r="2.3" fill="#000"/><circle cx="521.2" cy="298.0" r="2.3" fill="#000"/><circle cx="543.9" cy="303.8" r="2.3" fill="#000"/><circle cx="549.9" cy="303.0" r="2.3" fill="#000"/><circle cx="557.0" cy="303.8" r="2.3" fill="#000"/><circle cx="554.4" cy="307.0" r="2.3" fill="#000"/><circle cx="522.9" cy="303.2" r="2.3" fill="#000"/><circle cx="524.7" cy="305.5" r="2.3" fill="#000"/><circle cx="528.7" cy="303.8" r="2.3" fill="#000"/><circle cx="531.1" cy="304.4" r="2.3" fill="#000"/><circle cx="534.0" cy="304.6" r="2.3" fill="#000"/><circle cx="574.8" cy="303.8" r="2.3" fill="#000"/><circle cx="578.8" cy="300.1" r="2.3" fill="#000"/><circle cx="561.4" cy="313.7" r="2.3" fill="#000"/><circle cx="566.0" cy="316.0" r="2.3" fill="#000"/><circle cx="568.9" cy="312.5" r="2.3" fill="#000"/><circle cx="560.8" cy="318.4" r="2.3" fill="#000"/><circle cx="555.0" cy="320.1" r="2.3" fill="#000"/><circle cx="553.2" cy="327.7" r="2.3" fill="#000"/><circle cx="557.3" cy="332.3" r="2.3" fill="#000"/><circle cx="548.5" cy="333.5" r="2.3" fill="#000"/><circle cx="525.2" cy="333.5" r="2.3" fill="#000"/><circle cx="583.2" cy="255.3" r="2.3" fill="#f00"/><circle cx="587.7" cy="267.6" r="2.3" fill="#f00"/><circle cx="591.7" cy="271.0" r="2.3" fill="#f00"/><circle cx="593.8" cy="269.7" r="2.3" fill="#f00"/><circle cx="472.5" cy="309.6" r="2.3" fill="#000"/><circle cx="470.7" cy="319.3" r="2.3" fill="#000"/><circle cx="479.2" cy="317.5" r="2.3" fill="#000"/><circle cx="483.1" cy="322.1" r="2.3" fill="#000"/><circle cx="485.0" cy="321.0" r="2.3" fill="#000"/><circle cx="483.3" cy="327.1" r="2.3" fill="#000"/><circle cx="491.4" cy="318.3" r="2.3" fill="#000"/><circle cx="492.4" cy="320.7" r="2.3" fill="#000"/><circle cx="495.5" cy="321.2" r="2.3" fill="#000"/><circle cx="494.7" cy="323.9" r="2.3" fill="#000"/><circle cx="496.7" cy="327.3" r="2.3" fill="#000"/><circle cx="495.5" cy="314.3" r="2.3" fill="#000"/><circle cx="497.0" cy="312.5" r="2.3" fill="#000"/><circle cx="508.9" cy="304.9" r="2.3" fill="#000"/><circle cx="509.5" cy="316.4" r="2.3" fill="#000"/><circle cx="510.7" cy="313.1" r="2.3" fill="#000"/><circle cx="513.6" cy="323.3" r="2.3" fill="#000"/><circle cx="514.5" cy="329.4" r="2.3" fill="#000"/><circle cx="520.0" cy="330.3" r="2.3" fill="#000"/><circle cx="524.4" cy="286.5" r="2.3" fill="#000"/><circle cx="526.4" cy="295.0" r="2.3" fill="#000"/><circle cx="521.1" cy="298.3" r="2.3" fill="#000"/><circle cx="522.9" cy="303.8" r="2.3" fill="#000"/><circle cx="523.5" cy="305.5" r="2.3" fill="#000"/><circle cx="527.6" cy="303.8" r="2.3" fill="#000"/><circle cx="514.2" cy="312.5" r="2.3" fill="#000"/><circle cx="516.5" cy="314.8" r="2.3" fill="#000"/><circle cx="519.4" cy="311.3" r="2.3" fill="#000"/><circle cx="521.1" cy="314.3" r="2.3" fill="#000"/><circle cx="525.2" cy="313.7" r="2.3" fill="#000"/><circle cx="520.6" cy="317.8" r="2.3" fill="#000"/><circle cx="521.1" cy="324.7" r="2.3" fill="#000"/><circle cx="522.3" cy="325.9" r="2.3" fill="#000"/><circle cx="525.2" cy="332.9" r="2.3" fill="#000"/><circle cx="527.6" cy="330.6" r="2.3" fill="#000"/><circle cx="528.7" cy="318.9" r="2.3" fill="#000"/><circle cx="575.3" cy="303.4" r="2.3" fill="#000"/><circle cx="578.8" cy="300.2" r="2.3" fill="#000"/><circle cx="557.8" cy="258.7" r="2.3" fill="#000"/><circle cx="509.3" cy="312.1" r="2.3" fill="#000"/><circle cx="511.7" cy="311.5" r="2.3" fill="#000"/><circle cx="515.2" cy="312.1" r="2.3" fill="#000"/><circle cx="518.7" cy="311.3" r="2.3" fill="#000"/><circle cx="521.0" cy="313.9" r="2.3" fill="#000"/><circle cx="524.5" cy="313.9" r="2.3" fill="#000"/><circle cx="515.2" cy="315.0" r="2.3" fill="#000"/><circle cx="509.1" cy="316.2" r="2.3" fill="#000"/><circle cx="521.0" cy="317.4" r="2.3" fill="#000"/><circle cx="523.4" cy="318.5" r="2.3" fill="#000"/><circle cx="513.4" cy="323.2" r="2.3" fill="#000"/><circle cx="521.6" cy="323.8" r="2.3" fill="#000"/><circle cx="522.2" cy="326.1" r="2.3" fill="#000"/><circle cx="514.6" cy="329.1" r="2.3" fill="#000"/><circle cx="520.4" cy="330.2" r="2.3" fill="#000"/><circle cx="525.7" cy="333.1" r="2.3" fill="#000"/><circle cx="530.4" cy="310.9" r="2.3" fill="#000"/><circle cx="533.9" cy="311.5" r="2.3" fill="#000"/><circle cx="554.9" cy="319.7" r="2.3" fill="#000"/><circle cx="553.1" cy="327.9" r="2.3" fill="#000"/><circle cx="557.2" cy="332.0" r="2.3" fill="#000"/><circle cx="560.7" cy="318.5" r="2.3" fill="#000"/><circle cx="561.3" cy="313.9" r="2.3" fill="#000"/><circle cx="566.0" cy="315.0" r="2.3" fill="#000"/><circle cx="568.9" cy="312.7" r="2.3" fill="#000"/><circle cx="547.9" cy="333.1" r="2.3" fill="#000"/><circle cx="525.1" cy="322.0" r="2.3" fill="#000"/><circle cx="528.0" cy="318.5" r="2.3" fill="#000"/><circle cx="523.4" cy="316.2" r="2.3" fill="#000"/><circle cx="554.9" cy="315.0" r="2.3" fill="#000"/><rect x="402.60" y="225.90" width="269.70" height="112.20" fill="none" stroke="#000" stroke-width="1.4"/><line x1="412.59" y1="338.10" x2="412.59" y2="344.70" stroke="#000" stroke-width="1.3"/><text x="412.59" y="362.00" font-size="11" text-anchor="middle">−10</text><line x1="475.02" y1="338.10" x2="475.02" y2="344.70" stroke="#000" stroke-width="1.3"/><text x="475.02" y="362.00" font-size="11" text-anchor="middle">−5</text><line x1="537.45" y1="338.10" x2="537.45" y2="344.70" stroke="#000" stroke-width="1.3"/><text x="537.45" y="362.00" font-size="11" text-anchor="middle">0</text><line x1="599.88" y1="338.10" x2="599.88" y2="344.70" stroke="#000" stroke-width="1.3"/><text x="599.88" y="362.00" font-size="11" text-anchor="middle">5</text><line x1="662.31" y1="338.10" x2="662.31" y2="344.70" stroke="#000" stroke-width="1.3"/><text x="662.31" y="362.00" font-size="11" text-anchor="middle">10</text><line x1="395.60" y1="333.94" x2="402.60" y2="333.94" stroke="#000" stroke-width="1.3"/><text transform="translate(386.45,333.94) rotate(-90)" font-size="11" text-anchor="middle">0</text><line x1="395.60" y1="307.97" x2="402.60" y2="307.97" stroke="#000" stroke-width="1.3"/><text transform="translate(386.45,307.97) rotate(-90)" font-size="11" text-anchor="middle">1</text><line x1="395.60" y1="282.00" x2="402.60" y2="282.00" stroke="#000" stroke-width="1.3"/><text transform="translate(386.45,282.00) rotate(-90)" font-size="11" text-anchor="middle">2</text><line x1="395.60" y1="256.03" x2="402.60" y2="256.03" stroke="#000" stroke-width="1.3"/><text transform="translate(386.45,256.03) rotate(-90)" font-size="11" text-anchor="middle">3</text><line x1="395.60" y1="230.06" x2="402.60" y2="230.06" stroke="#000" stroke-width="1.3"/><text transform="translate(386.45,230.06) rotate(-90)" font-size="11" text-anchor="middle">4</text><text x="537.45" y="381.60" font-size="11" text-anchor="middle">log2 fold change</text><text transform="translate(360.65,282.00) rotate(-90)" font-size="11" text-anchor="middle">−log10 P−value</text><text x="362.10" y="217.80" font-size="17.5" font-weight="bold">D</text><text x="585.3" y="252.5" class="it" font-size="10" font-style="italic">bpa-let-7</text><text x="597.0" y="267.6" class="it" font-size="10" font-style="italic">bpa-miR-84-5p</text></g>
<g><circle cx="175.4" cy="514.3" r="2.3" fill="#000"/><circle cx="181.9" cy="514.0" r="2.3" fill="#000"/><circle cx="171.3" cy="516.3" r="2.3" fill="#000"/><circle cx="174.6" cy="516.8" r="2.3" fill="#000"/><circle cx="177.7" cy="516.8" r="2.3" fill="#000"/><circle cx="180.7" cy="516.1" r="2.3" fill="#000"/><circle cx="195.7" cy="517.0" r="2.3" fill="#000"/><circle cx="173.2" cy="519.1" r="2.3" fill="#000"/><circle cx="174.8" cy="518.7" r="2.3" fill="#000"/><circle cx="178.5" cy="518.7" r="2.3" fill="#000"/><circle cx="180.9" cy="518.7" r="2.3" fill="#000"/><circle cx="194.0" cy="518.7" r="2.3" fill="#000"/><circle cx="196.7" cy="519.6" r="2.3" fill="#000"/><circle cx="199.2" cy="518.9" r="2.3" fill="#000"/><circle cx="174.3" cy="522.1" r="2.3" fill="#000"/><circle cx="176.4" cy="521.5" r="2.3" fill="#000"/><circle cx="179.7" cy="522.2" r="2.3" fill="#000"/><circle cx="182.7" cy="521.9" r="2.3" fill="#000"/><circle cx="189.0" cy="522.3" r="2.3" fill="#000"/><circle cx="192.3" cy="521.5" r="2.3" fill="#000"/><circle cx="194.5" cy="521.5" r="2.3" fill="#000"/><circle cx="198.0" cy="521.9" r="2.3" fill="#000"/><circle cx="178.1" cy="524.5" r="2.3" fill="#000"/><circle cx="181.7" cy="523.8" r="2.3" fill="#000"/><circle cx="183.9" cy="524.5" r="2.3" fill="#000"/><circle cx="186.9" cy="524.4" r="2.3" fill="#000"/><circle cx="191.2" cy="524.3" r="2.3" fill="#000"/><circle cx="193.3" cy="523.8" r="2.3" fill="#000"/><circle cx="196.3" cy="524.1" r="2.3" fill="#000"/><circle cx="199.0" cy="524.6" r="2.3" fill="#000"/><circle cx="180.2" cy="526.6" r="2.3" fill="#000"/><circle cx="182.8" cy="526.7" r="2.3" fill="#000"/><circle cx="185.8" cy="527.1" r="2.3" fill="#000"/><circle cx="189.4" cy="527.3" r="2.3" fill="#000"/><circle cx="192.7" cy="526.3" r="2.3" fill="#000"/><circle cx="194.7" cy="527.6" r="2.3" fill="#000"/><circle cx="198.5" cy="527.3" r="2.3" fill="#000"/><circle cx="200.6" cy="526.4" r="2.3" fill="#000"/><circle cx="175.8" cy="529.8" r="2.3" fill="#000"/><circle cx="178.2" cy="528.9" r="2.3" fill="#000"/><circle cx="182.0" cy="529.8" r="2.3" fill="#000"/><circle cx="185.0" cy="529.8" r="2.3" fill="#000"/><circle cx="187.3" cy="529.7" r="2.3" fill="#000"/><circle cx="190.3" cy="530.1" r="2.3" fill="#000"/><circle cx="193.0" cy="529.8" r="2.3" fill="#000"/><circle cx="196.3" cy="530.1" r="2.3" fill="#000"/><circle cx="200.0" cy="529.0" r="2.3" fill="#000"/><circle cx="171.3" cy="531.7" r="2.3" fill="#000"/><circle cx="173.6" cy="532.0" r="2.3" fill="#000"/><circle cx="177.1" cy="532.3" r="2.3" fill="#000"/><circle cx="179.4" cy="532.6" r="2.3" fill="#000"/><circle cx="182.7" cy="532.4" r="2.3" fill="#000"/><circle cx="185.8" cy="531.8" r="2.3" fill="#000"/><circle cx="189.6" cy="531.7" r="2.3" fill="#000"/><circle cx="192.0" cy="532.6" r="2.3" fill="#000"/><circle cx="195.5" cy="532.4" r="2.3" fill="#000"/><circle cx="197.7" cy="532.3" r="2.3" fill="#000"/><circle cx="233.8" cy="459.0" r="2.3" fill="#f00"/><circle cx="238.1" cy="467.8" r="2.3" fill="#f00"/><circle cx="248.2" cy="466.0" r="2.3" fill="#f00"/><circle cx="251.0" cy="461.4" r="2.3" fill="#f00"/><circle cx="218.2" cy="475.4" r="2.3" fill="#f00"/><circle cx="107.2" cy="504.8" r="2.3" fill="#000"/><circle cx="117.2" cy="507.1" r="2.3" fill="#000"/><circle cx="118.9" cy="514.2" r="2.3" fill="#000"/><circle cx="121.2" cy="517.1" r="2.3" fill="#000"/><circle cx="124.1" cy="515.9" r="2.3" fill="#000"/><circle cx="126.4" cy="519.9" r="2.3" fill="#000"/><circle cx="128.7" cy="518.0" r="2.3" fill="#000"/><circle cx="137.3" cy="519.6" r="2.3" fill="#000"/><circle cx="139.0" cy="520.5" r="2.3" fill="#000"/><circle cx="135.6" cy="526.8" r="2.3" fill="#000"/><circle cx="145.9" cy="500.8" r="2.3" fill="#000"/><circle cx="149.3" cy="503.3" r="2.3" fill="#000"/><circle cx="158.5" cy="500.4" r="2.3" fill="#000"/><circle cx="163.1" cy="500.8" r="2.3" fill="#000"/><circle cx="164.0" cy="489.2" r="2.3" fill="#000"/><circle cx="168.6" cy="478.8" r="2.3" fill="#000"/><circle cx="159.1" cy="508.1" r="2.3" fill="#000"/><circle cx="159.7" cy="511.9" r="2.3" fill="#000"/><circle cx="161.1" cy="515.9" r="2.3" fill="#000"/><circle cx="148.8" cy="521.1" r="2.3" fill="#000"/><circle cx="150.5" cy="519.6" r="2.3" fill="#000"/><circle cx="152.8" cy="518.0" r="2.3" fill="#000"/><circle cx="155.7" cy="521.6" r="2.3" fill="#000"/><circle cx="157.4" cy="519.6" r="2.3" fill="#000"/><circle cx="168.9" cy="514.8" r="2.3" fill="#000"/><circle cx="168.9" cy="519.3" r="2.3" fill="#000"/><circle cx="169.4" cy="532.5" r="2.3" fill="#000"/><circle cx="169.0" cy="478.6" r="2.3" fill="#000"/><circle cx="171.5" cy="485.5" r="2.3" fill="#000"/><circle cx="171.8" cy="487.8" r="2.3" fill="#000"/><circle cx="164.2" cy="489.2" r="2.3" fill="#000"/><circle cx="199.0" cy="479.0" r="2.3" fill="#000"/><circle cx="203.6" cy="483.2" r="2.3" fill="#000"/><circle cx="197.9" cy="484.7" r="2.3" fill="#000"/><circle cx="194.8" cy="493.3" r="2.3" fill="#000"/><circle cx="163.4" cy="501.0" r="2.3" fill="#000"/><circle cx="183.0" cy="503.6" r="2.3" fill="#000"/><circle cx="195.0" cy="500.8" r="2.3" fill="#000"/><circle cx="200.2" cy="501.0" r="2.3" fill="#000"/><circle cx="208.2" cy="501.0" r="2.3" fill="#000"/><circle cx="214.5" cy="505.6" r="2.3" fill="#000"/><circle cx="191.6" cy="504.7" r="2.3" fill="#000"/><circle cx="194.4" cy="505.6" r="2.3" fill="#000"/><circle cx="205.3" cy="505.3" r="2.3" fill="#000"/><circle cx="197.9" cy="507.9" r="2.3" fill="#000"/><circle cx="201.3" cy="509.0" r="2.3" fill="#000"/><circle cx="203.6" cy="511.3" r="2.3" fill="#000"/><circle cx="205.3" cy="510.7" r="2.3" fill="#000"/><circle cx="190.4" cy="511.3" r="2.3" fill="#000"/><circle cx="184.1" cy="511.9" r="2.3" fill="#000"/><circle cx="176.6" cy="507.3" r="2.3" fill="#000"/><circle cx="177.8" cy="510.2" r="2.3" fill="#000"/><circle cx="205.9" cy="516.5" r="2.3" fill="#000"/><circle cx="224.8" cy="525.3" r="2.3" fill="#000"/><circle cx="212.8" cy="526.2" r="2.3" fill="#000"/><circle cx="215.1" cy="529.1" r="2.3" fill="#000"/><circle cx="209.3" cy="530.2" r="2.3" fill="#000"/><circle cx="203.6" cy="532.5" r="2.3" fill="#000"/><circle cx="160.6" cy="509.0" r="2.3" fill="#000"/><circle cx="161.1" cy="515.9" r="2.3" fill="#000"/><circle cx="231.9" cy="527.2" r="2.3" fill="#000"/><circle cx="209.5" cy="530.3" r="2.3" fill="#000"/><circle cx="203.9" cy="532.7" r="2.3" fill="#000"/><circle cx="208.5" cy="501.1" r="2.3" fill="#000"/><circle cx="200.2" cy="500.9" r="2.3" fill="#000"/><circle cx="201.4" cy="502.1" r="2.3" fill="#000"/><circle cx="205.5" cy="505.3" r="2.3" fill="#000"/><circle cx="205.5" cy="511.3" r="2.3" fill="#000"/><circle cx="206.3" cy="516.2" r="2.3" fill="#000"/><circle cx="202.6" cy="510.1" r="2.3" fill="#000"/><circle cx="203.0" cy="512.5" r="2.3" fill="#000"/><rect x="51.25" y="425.00" width="269.25" height="111.90" fill="none" stroke="#000" stroke-width="1.4"/><line x1="61.22" y1="536.90" x2="61.22" y2="543.50" stroke="#000" stroke-width="1.3"/><text x="61.22" y="560.80" font-size="11" text-anchor="middle">−10</text><line x1="123.55" y1="536.90" x2="123.55" y2="543.50" stroke="#000" stroke-width="1.3"/><text x="123.55" y="560.80" font-size="11" text-anchor="middle">−5</text><line x1="185.88" y1="536.90" x2="185.88" y2="543.50" stroke="#000" stroke-width="1.3"/><text x="185.88" y="560.80" font-size="11" text-anchor="middle">0</text><line x1="248.20" y1="536.90" x2="248.20" y2="543.50" stroke="#000" stroke-width="1.3"/><text x="248.20" y="560.80" font-size="11" text-anchor="middle">5</text><line x1="310.53" y1="536.90" x2="310.53" y2="543.50" stroke="#000" stroke-width="1.3"/><text x="310.53" y="560.80" font-size="11" text-anchor="middle">10</text><line x1="44.25" y1="532.76" x2="51.25" y2="532.76" stroke="#000" stroke-width="1.3"/><text transform="translate(35.10,532.76) rotate(-90)" font-size="11" text-anchor="middle">0</text><line x1="44.25" y1="506.85" x2="51.25" y2="506.85" stroke="#000" stroke-width="1.3"/><text transform="translate(35.10,506.85) rotate(-90)" font-size="11" text-anchor="middle">1</text><line x1="44.25" y1="480.95" x2="51.25" y2="480.95" stroke="#000" stroke-width="1.3"/><text transform="translate(35.10,480.95) rotate(-90)" font-size="11" text-anchor="middle">2</text><line x1="44.25" y1="455.05" x2="51.25" y2="455.05" stroke="#000" stroke-width="1.3"/><text transform="translate(35.10,455.05) rotate(-90)" font-size="11" text-anchor="middle">3</text><line x1="44.25" y1="429.14" x2="51.25" y2="429.14" stroke="#000" stroke-width="1.3"/><text transform="translate(35.10,429.14) rotate(-90)" font-size="11" text-anchor="middle">4</text><text x="185.88" y="580.40" font-size="11" text-anchor="middle">log2 fold change</text><text transform="translate(9.30,480.95) rotate(-90)" font-size="11" text-anchor="middle">−log10 P−value</text><text x="10.75" y="419.80" font-size="17.5" font-weight="bold">E</text><text x="232.5" y="454.8" class="it" font-size="10" font-style="italic">bpa-let-7</text><text x="253.7" y="463.8" class="it" font-size="10" font-style="italic">bpa-miR-84-5p</text></g>
<g><circle cx="523.4" cy="511.0" r="2.3" fill="#000"/><circle cx="526.2" cy="510.6" r="2.3" fill="#000"/><circle cx="521.8" cy="512.6" r="2.3" fill="#000"/><circle cx="524.7" cy="512.4" r="2.3" fill="#000"/><circle cx="527.8" cy="512.9" r="2.3" fill="#000"/><circle cx="531.8" cy="513.1" r="2.3" fill="#000"/><circle cx="523.4" cy="515.3" r="2.3" fill="#000"/><circle cx="526.0" cy="515.4" r="2.3" fill="#000"/><circle cx="529.8" cy="516.2" r="2.3" fill="#000"/><circle cx="532.4" cy="515.6" r="2.3" fill="#000"/><circle cx="541.4" cy="516.1" r="2.3" fill="#000"/><circle cx="521.9" cy="518.2" r="2.3" fill="#000"/><circle cx="525.3" cy="518.1" r="2.3" fill="#000"/><circle cx="528.4" cy="518.0" r="2.3" fill="#000"/><circle cx="531.2" cy="518.0" r="2.3" fill="#000"/><circle cx="534.1" cy="517.7" r="2.3" fill="#000"/><circle cx="540.3" cy="518.1" r="2.3" fill="#000"/><circle cx="543.1" cy="518.8" r="2.3" fill="#000"/><circle cx="545.7" cy="518.3" r="2.3" fill="#000"/><circle cx="549.3" cy="518.4" r="2.3" fill="#000"/><circle cx="523.1" cy="521.0" r="2.3" fill="#000"/><circle cx="526.7" cy="521.5" r="2.3" fill="#000"/><circle cx="530.0" cy="521.1" r="2.3" fill="#000"/><circle cx="532.9" cy="521.1" r="2.3" fill="#000"/><circle cx="535.6" cy="520.8" r="2.3" fill="#000"/><circle cx="538.7" cy="520.2" r="2.3" fill="#000"/><circle cx="541.7" cy="520.7" r="2.3" fill="#000"/><circle cx="544.6" cy="520.9" r="2.3" fill="#000"/><circle cx="547.9" cy="520.7" r="2.3" fill="#000"/><circle cx="550.8" cy="520.5" r="2.3" fill="#000"/><circle cx="524.5" cy="523.0" r="2.3" fill="#000"/><circle cx="528.0" cy="523.4" r="2.3" fill="#000"/><circle cx="531.0" cy="523.5" r="2.3" fill="#000"/><circle cx="534.4" cy="523.8" r="2.3" fill="#000"/><circle cx="537.4" cy="523.3" r="2.3" fill="#000"/><circle cx="540.7" cy="523.9" r="2.3" fill="#000"/><circle cx="543.8" cy="522.8" r="2.3" fill="#000"/><circle cx="546.3" cy="523.0" r="2.3" fill="#000"/><circle cx="549.7" cy="524.1" r="2.3" fill="#000"/><circle cx="530.2" cy="525.9" r="2.3" fill="#000"/><circle cx="532.1" cy="525.8" r="2.3" fill="#000"/><circle cx="536.3" cy="525.7" r="2.3" fill="#000"/><circle cx="539.0" cy="525.8" r="2.3" fill="#000"/><circle cx="542.3" cy="525.8" r="2.3" fill="#000"/><circle cx="545.3" cy="526.1" r="2.3" fill="#000"/><circle cx="547.0" cy="525.9" r="2.3" fill="#000"/><circle cx="550.6" cy="525.6" r="2.3" fill="#000"/><circle cx="534.8" cy="528.4" r="2.3" fill="#000"/><circle cx="536.7" cy="528.7" r="2.3" fill="#000"/><circle cx="539.7" cy="529.2" r="2.3" fill="#000"/><circle cx="543.3" cy="528.5" r="2.3" fill="#000"/><circle cx="546.7" cy="529.0" r="2.3" fill="#000"/><circle cx="549.5" cy="528.1" r="2.3" fill="#000"/><circle cx="535.9" cy="531.3" r="2.3" fill="#000"/><circle cx="538.1" cy="530.8" r="2.3" fill="#000"/><circle cx="541.9" cy="531.9" r="2.3" fill="#000"/><circle cx="544.6" cy="531.9" r="2.3" fill="#000"/><circle cx="547.1" cy="530.9" r="2.3" fill="#000"/><circle cx="546.5" cy="479.2" r="2.3" fill="#000"/><circle cx="545.0" cy="484.3" r="2.3" fill="#000"/><circle cx="548.8" cy="483.5" r="2.3" fill="#000"/><circle cx="534.1" cy="481.5" r="2.3" fill="#000"/><circle cx="522.4" cy="484.3" r="2.3" fill="#000"/><circle cx="533.3" cy="488.4" r="2.3" fill="#000"/><circle cx="544.2" cy="490.4" r="2.3" fill="#000"/><circle cx="544.4" cy="495.8" r="2.3" fill="#000"/><circle cx="526.4" cy="494.1" r="2.3" fill="#000"/><circle cx="528.4" cy="496.4" r="2.3" fill="#000"/><circle cx="534.7" cy="495.2" r="2.3" fill="#000"/><circle cx="533.9" cy="497.3" r="2.3" fill="#000"/><circle cx="521.2" cy="497.3" r="2.3" fill="#000"/><circle cx="557.6" cy="494.1" r="2.3" fill="#000"/><circle cx="554.7" cy="497.5" r="2.3" fill="#000"/><circle cx="557.0" cy="499.3" r="2.3" fill="#000"/><circle cx="563.9" cy="502.7" r="2.3" fill="#000"/><circle cx="515.7" cy="501.5" r="2.3" fill="#000"/><circle cx="516.9" cy="503.8" r="2.3" fill="#000"/><circle cx="527.8" cy="502.7" r="2.3" fill="#000"/><circle cx="530.1" cy="501.5" r="2.3" fill="#000"/><circle cx="534.7" cy="505.3" r="2.3" fill="#000"/><circle cx="543.8" cy="504.1" r="2.3" fill="#000"/><circle cx="546.7" cy="509.0" r="2.3" fill="#000"/><circle cx="548.4" cy="507.9" r="2.3" fill="#000"/><circle cx="553.6" cy="508.4" r="2.3" fill="#000"/><circle cx="557.0" cy="510.7" r="2.3" fill="#000"/><circle cx="552.4" cy="513.4" r="2.3" fill="#000"/><circle cx="556.5" cy="517.0" r="2.3" fill="#000"/><circle cx="554.7" cy="522.2" r="2.3" fill="#000"/><circle cx="559.9" cy="526.2" r="2.3" fill="#000"/><circle cx="555.9" cy="529.1" r="2.3" fill="#000"/><circle cx="552.4" cy="527.4" r="2.3" fill="#000"/><circle cx="513.4" cy="515.7" r="2.3" fill="#000"/><circle cx="518.6" cy="519.9" r="2.3" fill="#000"/><circle cx="521.5" cy="523.9" r="2.3" fill="#000"/><circle cx="518.0" cy="509.6" r="2.3" fill="#000"/><circle cx="522.0" cy="505.6" r="2.3" fill="#000"/><circle cx="496.1" cy="502.2" r="2.3" fill="#000"/><circle cx="507.2" cy="500.4" r="2.3" fill="#000"/><circle cx="507.2" cy="507.1" r="2.3" fill="#000"/><circle cx="494.4" cy="517.4" r="2.3" fill="#000"/><circle cx="501.9" cy="518.0" r="2.3" fill="#000"/><circle cx="504.5" cy="516.6" r="2.3" fill="#000"/><circle cx="513.6" cy="515.7" r="2.3" fill="#000"/><circle cx="495.2" cy="529.7" r="2.3" fill="#000"/><circle cx="515.9" cy="501.7" r="2.3" fill="#000"/><circle cx="516.8" cy="504.5" r="2.3" fill="#000"/><circle cx="587.4" cy="525.5" r="2.3" fill="#000"/><circle cx="526.4" cy="502.2" r="2.3" fill="#000"/><circle cx="529.9" cy="503.1" r="2.3" fill="#000"/><circle cx="532.6" cy="507.4" r="2.3" fill="#000"/><circle cx="523.8" cy="506.6" r="2.3" fill="#000"/><circle cx="522.0" cy="509.2" r="2.3" fill="#000"/><circle cx="519.4" cy="511.8" r="2.3" fill="#000"/><circle cx="537.8" cy="513.6" r="2.3" fill="#000"/><circle cx="540.4" cy="515.3" r="2.3" fill="#000"/><circle cx="534.3" cy="513.6" r="2.3" fill="#000"/><circle cx="548.3" cy="515.3" r="2.3" fill="#000"/><circle cx="552.7" cy="517.1" r="2.3" fill="#000"/><circle cx="555.3" cy="521.5" r="2.3" fill="#000"/><circle cx="550.1" cy="524.1" r="2.3" fill="#000"/><circle cx="554.5" cy="528.5" r="2.3" fill="#000"/><circle cx="520.3" cy="520.6" r="2.3" fill="#000"/><circle cx="522.0" cy="524.1" r="2.3" fill="#000"/><rect x="402.60" y="425.00" width="269.70" height="111.90" fill="none" stroke="#000" stroke-width="1.4"/><line x1="412.59" y1="536.90" x2="412.59" y2="543.50" stroke="#000" stroke-width="1.3"/><text x="412.59" y="560.80" font-size="11" text-anchor="middle">−10</text><line x1="475.02" y1="536.90" x2="475.02" y2="543.50" stroke="#000" stroke-width="1.3"/><text x="475.02" y="560.80" font-size="11" text-anchor="middle">−5</text><line x1="537.45" y1="536.90" x2="537.45" y2="543.50" stroke="#000" stroke-width="1.3"/><text x="537.45" y="560.80" font-size="11" text-anchor="middle">0</text><line x1="599.88" y1="536.90" x2="599.88" y2="543.50" stroke="#000" stroke-width="1.3"/><text x="599.88" y="560.80" font-size="11" text-anchor="middle">5</text><line x1="662.31" y1="536.90" x2="662.31" y2="543.50" stroke="#000" stroke-width="1.3"/><text x="662.31" y="560.80" font-size="11" text-anchor="middle">10</text><line x1="395.60" y1="532.76" x2="402.60" y2="532.76" stroke="#000" stroke-width="1.3"/><text transform="translate(386.45,532.76) rotate(-90)" font-size="11" text-anchor="middle">0</text><line x1="395.60" y1="506.85" x2="402.60" y2="506.85" stroke="#000" stroke-width="1.3"/><text transform="translate(386.45,506.85) rotate(-90)" font-size="11" text-anchor="middle">1</text><line x1="395.60" y1="480.95" x2="402.60" y2="480.95" stroke="#000" stroke-width="1.3"/><text transform="translate(386.45,480.95) rotate(-90)" font-size="11" text-anchor="middle">2</text><line x1="395.60" y1="455.05" x2="402.60" y2="455.05" stroke="#000" stroke-width="1.3"/><text transform="translate(386.45,455.05) rotate(-90)" font-size="11" text-anchor="middle">3</text><line x1="395.60" y1="429.14" x2="402.60" y2="429.14" stroke="#000" stroke-width="1.3"/><text transform="translate(386.45,429.14) rotate(-90)" font-size="11" text-anchor="middle">4</text><text x="537.45" y="580.40" font-size="11" text-anchor="middle">log2 fold change</text><text transform="translate(360.65,480.95) rotate(-90)" font-size="11" text-anchor="middle">−log10 P−value</text><text x="362.10" y="419.80" font-size="17.5" font-weight="bold">F</text></g>
</svg></body></html>
